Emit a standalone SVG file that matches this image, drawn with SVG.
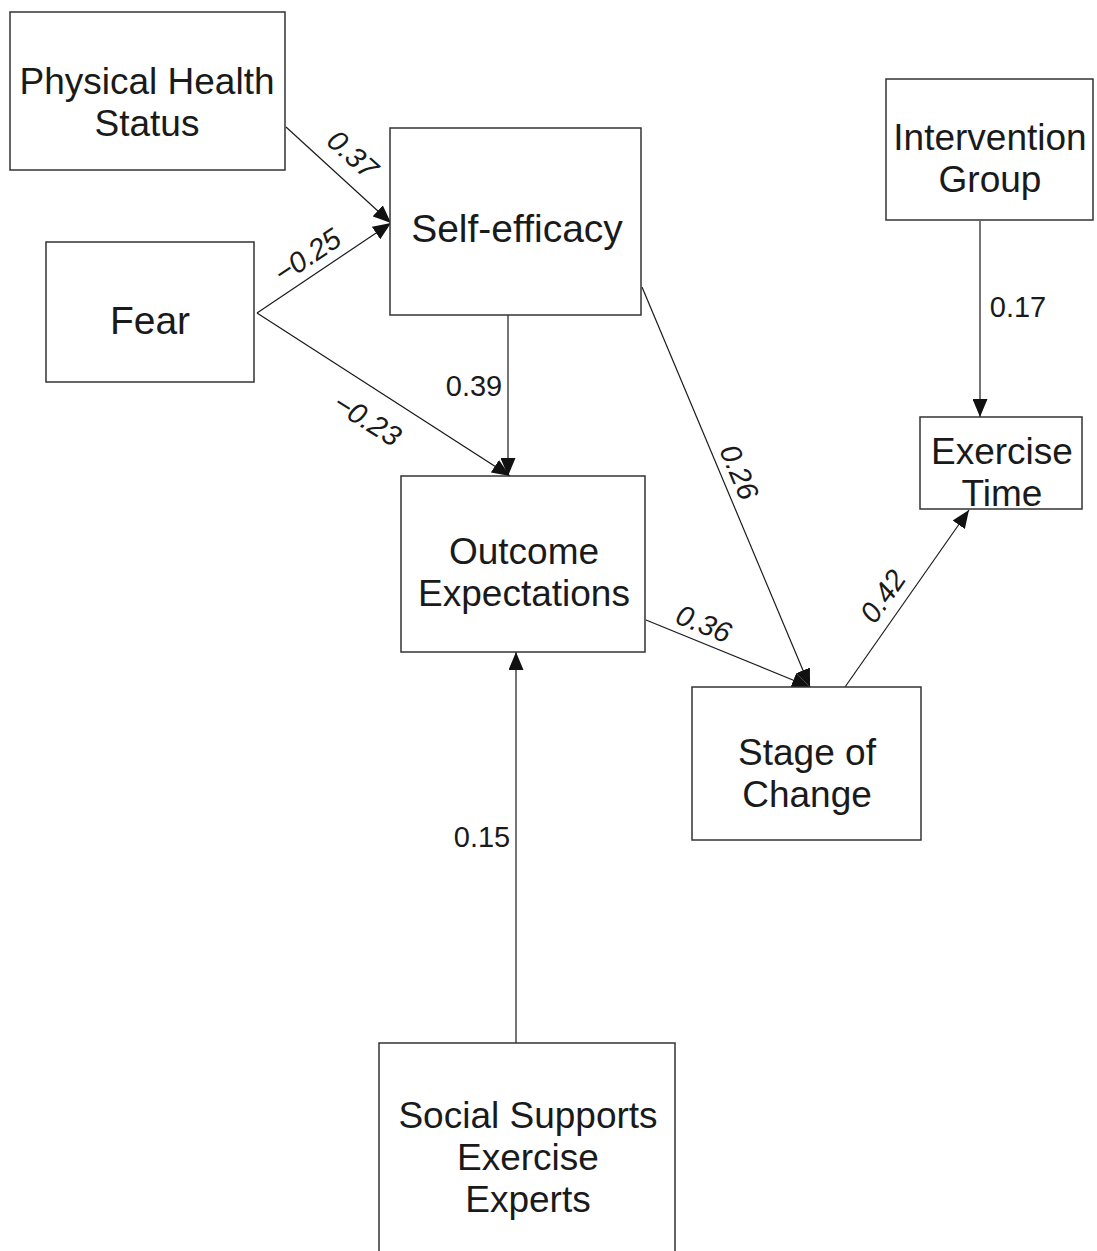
<svg xmlns="http://www.w3.org/2000/svg" width="1097" height="1251" viewBox="0 0 1097 1251">
<style>
.box{fill:#fff;stroke:#333;stroke-width:1.5}
.nt{font-family:"Liberation Sans",Arial,sans-serif;font-size:39px;fill:#1a1a1a;text-anchor:middle}
.nm{font-family:"Liberation Sans",Arial,sans-serif;font-size:37px;fill:#1a1a1a;text-anchor:middle}
.lb{font-family:"Liberation Sans",Arial,sans-serif;font-size:29px;fill:#1a1a1a;text-anchor:middle}
.it{font-style:italic}
.ln{stroke:#1a1a1a;stroke-width:1.2;fill:none;marker-end:url(#ah)}
</style>
<defs>
<marker id="ah" viewBox="0 0 18 15" refX="18" refY="7.5" markerWidth="18" markerHeight="15" markerUnits="userSpaceOnUse" orient="auto">
<path d="M0,0 L18,7.5 L0,15 Z" fill="#111"/>
</marker>
</defs>
<rect width="1097" height="1251" fill="#fff"/>
<g id="connectors">
<line class="ln" x1="286" y1="127" x2="391" y2="223"/>
<line class="ln" x1="257" y1="313" x2="391" y2="223"/>
<line class="ln" x1="257" y1="313" x2="510" y2="476"/>
<line class="ln" x1="508" y1="315" x2="508" y2="476"/>
<line class="ln" x1="642" y1="287" x2="810" y2="687"/>
<line class="ln" x1="646" y1="620" x2="810" y2="687"/>
<line class="ln" x1="845" y1="687" x2="969" y2="510"/>
<line class="ln" x1="980" y1="221" x2="980" y2="417"/>
<line class="ln" x1="516" y1="1043" x2="516" y2="652"/>
<text class="lb it" transform="translate(346,162) rotate(42)">0.37</text>
<text class="lb it" transform="translate(313,264) rotate(-34)">−0.25</text>
<text class="lb it" transform="translate(362,428) rotate(32)">−0.23</text>
<text class="lb" x="474" y="396">0.39</text>
<text class="lb it" transform="translate(730,476) rotate(67)">0.26</text>
<text class="lb it" transform="translate(700,633) rotate(22)">0.36</text>
<text class="lb it" transform="translate(891,602) rotate(-55)">0.42</text>
<text class="lb" x="1018" y="317">0.17</text>
<text class="lb" x="482" y="847">0.15</text>
</g>
<g id="n-phs"><rect class="box" x="10" y="12" width="275" height="158"/><text class="nm" x="147" y="94">Physical Health</text><text class="nm" x="147" y="136">Status</text></g>
<g id="n-se"><rect class="box" x="390" y="128" width="251" height="187"/><text class="nt" x="517" y="242">Self-efficacy</text></g>
<g id="n-fear"><rect class="box" x="46" y="242" width="208" height="140"/><text class="nt" x="150" y="334">Fear</text></g>
<g id="n-ig"><rect class="box" x="886" y="79" width="207" height="141"/><text class="nm" x="990" y="150">Intervention</text><text class="nm" x="990" y="192">Group</text></g>
<g id="n-et"><rect class="box" x="920" y="417" width="162" height="92"/><text class="nm" x="1002" y="464">Exercise</text><text class="nm" x="1002" y="506">Time</text></g>
<g id="n-oe"><rect class="box" x="401" y="476" width="244" height="176"/><text class="nm" x="524" y="564">Outcome</text><text class="nm" x="524" y="606">Expectations</text></g>
<g id="n-sc"><rect class="box" x="692" y="687" width="229" height="153"/><text class="nm" x="807" y="765">Stage of</text><text class="nm" x="807" y="807">Change</text></g>
<g id="n-ss"><rect class="box" x="379" y="1043" width="296" height="215"/><text class="nm" x="528" y="1128">Social Supports</text><text class="nm" x="528" y="1170">Exercise</text><text class="nm" x="528" y="1212">Experts</text></g>
</svg>
